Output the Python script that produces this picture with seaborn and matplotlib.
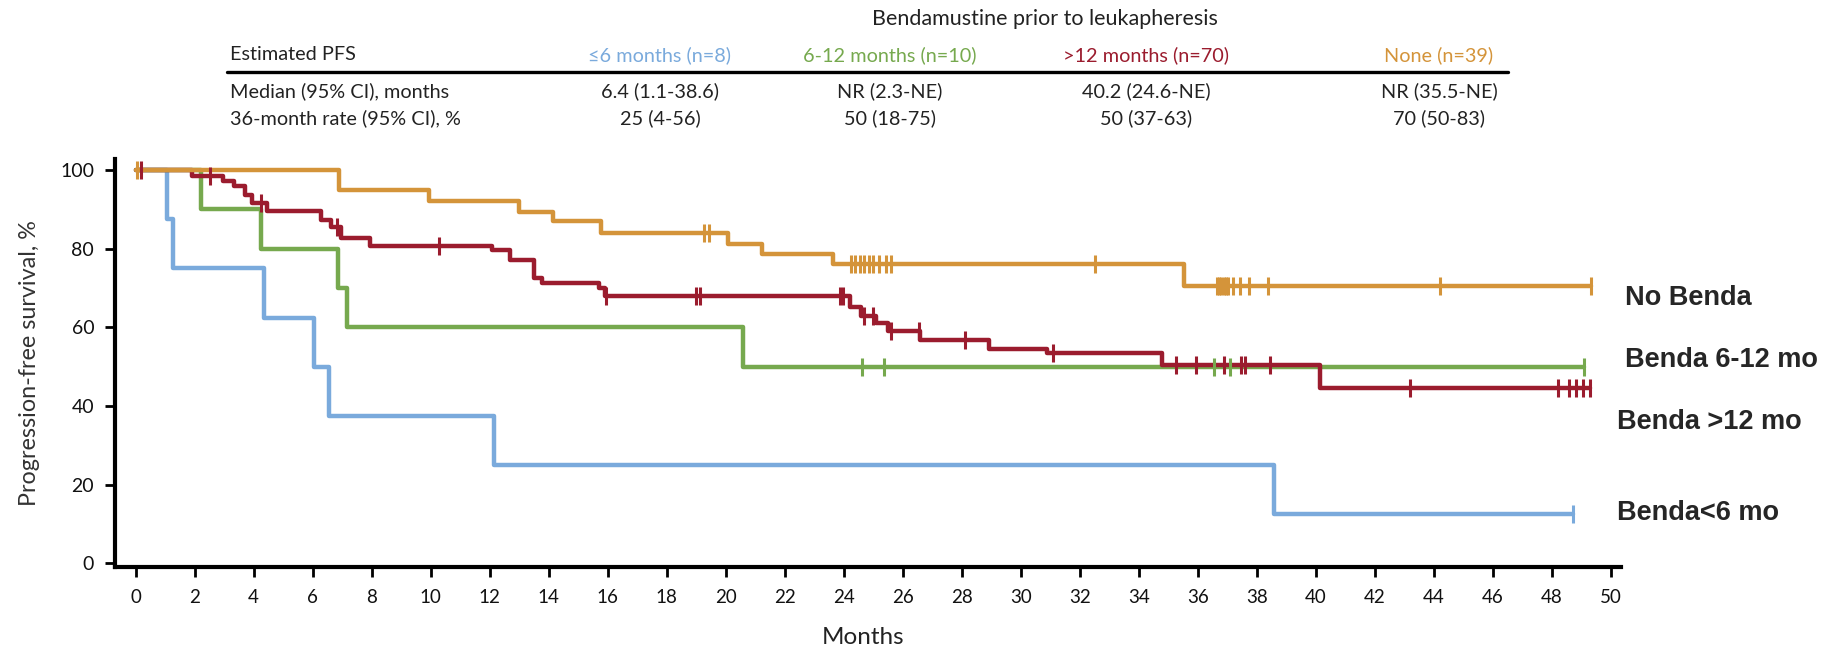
import numpy as np
import pandas as pd
import matplotlib
matplotlib.use('Agg')
import matplotlib.pyplot as plt
import seaborn as sns

# Kaplan-Meier steps: months at each step, PFS (%) after the step
months_le6 = [0, 1.06, 1.26, 4.34, 6.05, 6.57, 12.14, 38.58, 48.72]
pfs_le6 = [100, 87.5, 75, 62.5, 50, 37.5, 25, 12.5, 12.5]
censor_le6 = [48.72]

months_6to12 = [0, 2.23, 4.25, 6.85, 7.15, 20.59, 49.08]
pfs_6to12 = [100, 90, 80, 70, 60, 50, 50]
censor_6to12 = [24.62, 25.38, 36.55, 37.1, 49.08]

months_gt12 = [0, 1.9, 2.97, 3.35, 3.72, 3.95, 4.46, 6.28, 6.63, 6.96, 7.93, 12.07,
               12.7, 13.5, 13.76, 15.7, 15.9, 24.22, 24.6, 25.11, 25.51, 26.6, 28.94,
               30.88, 34.8, 40.16, 49.3]
pfs_gt12 = [100, 98.5, 97.2, 95.9, 93.6, 91.5, 89.6, 87.2, 85.4, 82.6, 80.7, 79.6,
            77.2, 72.5, 71.3, 70.0, 68.0, 65.3, 63.0, 61.1, 59.1, 56.8, 54.6,
            53.4, 50.5, 44.6, 44.6]
censor_gt12 = [0.18, 2.53, 4.24, 6.83, 10.28, 15.95, 19.0, 19.12, 23.88, 23.98, 24.7,
               25.0, 25.6, 26.55, 28.13, 31.08, 35.28, 35.96, 36.9, 37.47, 37.6, 38.45,
               43.2, 48.2, 48.6, 48.83, 49.05, 49.3]

months_none = [0, 6.9, 9.96, 12.98, 14.15, 15.79, 20.07, 21.24, 23.63, 35.55, 49.33]
pfs_none = [100, 95.0, 92.2, 89.2, 87.1, 83.9, 81.1, 78.7, 76.2, 70.4, 70.4]
censor_none = [0.05, 19.25, 19.42, 24.25, 24.4, 24.55, 24.7, 24.85, 25.0, 25.2, 25.45,
               25.6, 32.53, 36.65, 36.72, 36.8, 36.88, 36.95, 37.02, 37.2, 37.43, 37.74,
               38.38, 44.2, 49.33]

groups = ['le6', '6to12', 'gt12', 'none']
colors = {'le6': '#7aaadc', '6to12': '#76a94e', 'gt12': '#9b1c2e', 'none': '#d4943a'}
curve_labels = ['Benda<6 mo', 'Benda 6-12 mo', 'Benda >12 mo', 'No Benda']
label_pos = {'No Benda': (50.47, 67.4), 'Benda 6-12 mo': (50.47, 51.7),
             'Benda >12 mo': (50.2, 35.9), 'Benda<6 mo': (50.2, 12.8)}

# summary table
table_header = 'Bendamustine prior to leukapheresis'
table_rows = ['Estimated PFS', 'Median (95% CI), months', '36-month rate (95% CI), %']
table_cols = ['\u22646 months (n=8)', '6-12 months (n=10)', '>12 months (n=70)', 'None (n=39)']
median_vals = ['6.4 (1.1-38.6)', 'NR (2.3-NE)', '40.2 (24.6-NE)', 'NR (35.5-NE)']
rate_vals = ['25 (4-56)', '50 (18-75)', '50 (37-63)', '70 (50-83)']


def main():
    sns.set_style('ticks')
    plt.rcParams['font.family'] = ['Lato', 'DejaVu Sans']

    steps = {'le6': (months_le6, pfs_le6), '6to12': (months_6to12, pfs_6to12),
             'gt12': (months_gt12, pfs_gt12), 'none': (months_none, pfs_none)}
    censors = {'le6': censor_le6, '6to12': censor_6to12, 'gt12': censor_gt12, 'none': censor_none}

    frames = []
    for g in groups:
        frames.append(pd.DataFrame({'month': steps[g][0], 'pfs': steps[g][1], 'group': g}))
    df = pd.concat(frames, ignore_index=True)

    W, H = 1829, 652
    fig = plt.figure(figsize=(W / 100, H / 100), dpi=100)
    ax = fig.add_axes([115 / W, (H - 566.5) / H, 1506 / W, 407.5 / H])

    sns.lineplot(data=df, x='month', y='pfs', hue='group', hue_order=groups,
                 palette=colors, drawstyle='steps-post', estimator=None, sort=False,
                 linewidth=3.2, legend=False, ax=ax)

    # censoring marks sit on the step curve
    for g in groups:
        t = np.asarray(steps[g][0])
        s = np.asarray(steps[g][1])
        c = np.asarray(censors[g])
        idx = np.searchsorted(t, c, side='right') - 1
        cdf = pd.DataFrame({'month': c, 'pfs': s[idx]})
        sns.scatterplot(data=cdf, x='month', y='pfs', marker='|', s=170,
                        linewidth=2.2, color=colors[g], ax=ax, zorder=3)

    ax.set_xlim(-0.7, 50.35)
    ax.set_ylim(-0.8, 102.8)
    ax.set_xticks(np.arange(0, 51, 2))
    ax.set_yticks(np.arange(0, 101, 20))
    sns.despine(ax=ax)
    for side in ['left', 'bottom']:
        ax.spines[side].set_linewidth(3)
        ax.spines[side].set_color('black')
    ax.tick_params(axis='both', width=2, length=7, color='black')
    ax.tick_params(axis='x', labelsize=13.5, pad=9, labelcolor='#111111')
    ax.tick_params(axis='y', labelsize=14, pad=8, labelcolor='#111111')

    ax.set_xlabel('Months', fontsize=17.5, color='#222222')
    ax.xaxis.set_label_coords(0.497, -0.148)
    ax.set_ylabel('Progression-free survival, %', fontsize=16.8, color='#333333')
    ax.yaxis.set_label_coords(-0.0498, 0.5)

    for name in curve_labels:
        x, y = label_pos[name]
        ax.text(x, y, name, fontsize=19.5, fontweight='bold', family='Liberation Sans',
                ha='left', va='center', clip_on=False)

    # table above the plot
    def fx(px):
        return px / W

    def fy(py):
        return 1 - py / H

    fs = 14.3
    col_x = [660, 890, 1146, 1439]
    fig.text(fx(1045), fy(19), table_header, fontsize=15.5, ha='center', va='center', color='#222222')
    fig.text(fx(230), fy(55), table_rows[0], fontsize=fs, ha='left', va='center', color='#222222')
    fig.text(fx(230), fy(91), table_rows[1], fontsize=fs, ha='left', va='center', color='#222222')
    fig.text(fx(230), fy(118), table_rows[2], fontsize=fs, ha='left', va='center', color='#222222')
    for i, g in enumerate(groups):
        fig.text(fx(col_x[i]), fy(55), table_cols[i], fontsize=fs, ha='center', va='center', color=colors[g])
        fig.text(fx(col_x[i]), fy(91), median_vals[i], fontsize=fs, ha='center', va='center', color='#222222')
        fig.text(fx(col_x[i]), fy(118), rate_vals[i], fontsize=fs, ha='center', va='center', color='#222222')
    fig.add_artist(plt.Line2D([fx(227), fx(1508)], [fy(71.5), fy(71.5)], color='black',
                              linewidth=2.4, transform=fig.transFigure))

    fig.savefig('out.png', dpi=100)
    plt.close(fig)


if __name__ == "__main__":
    main()
